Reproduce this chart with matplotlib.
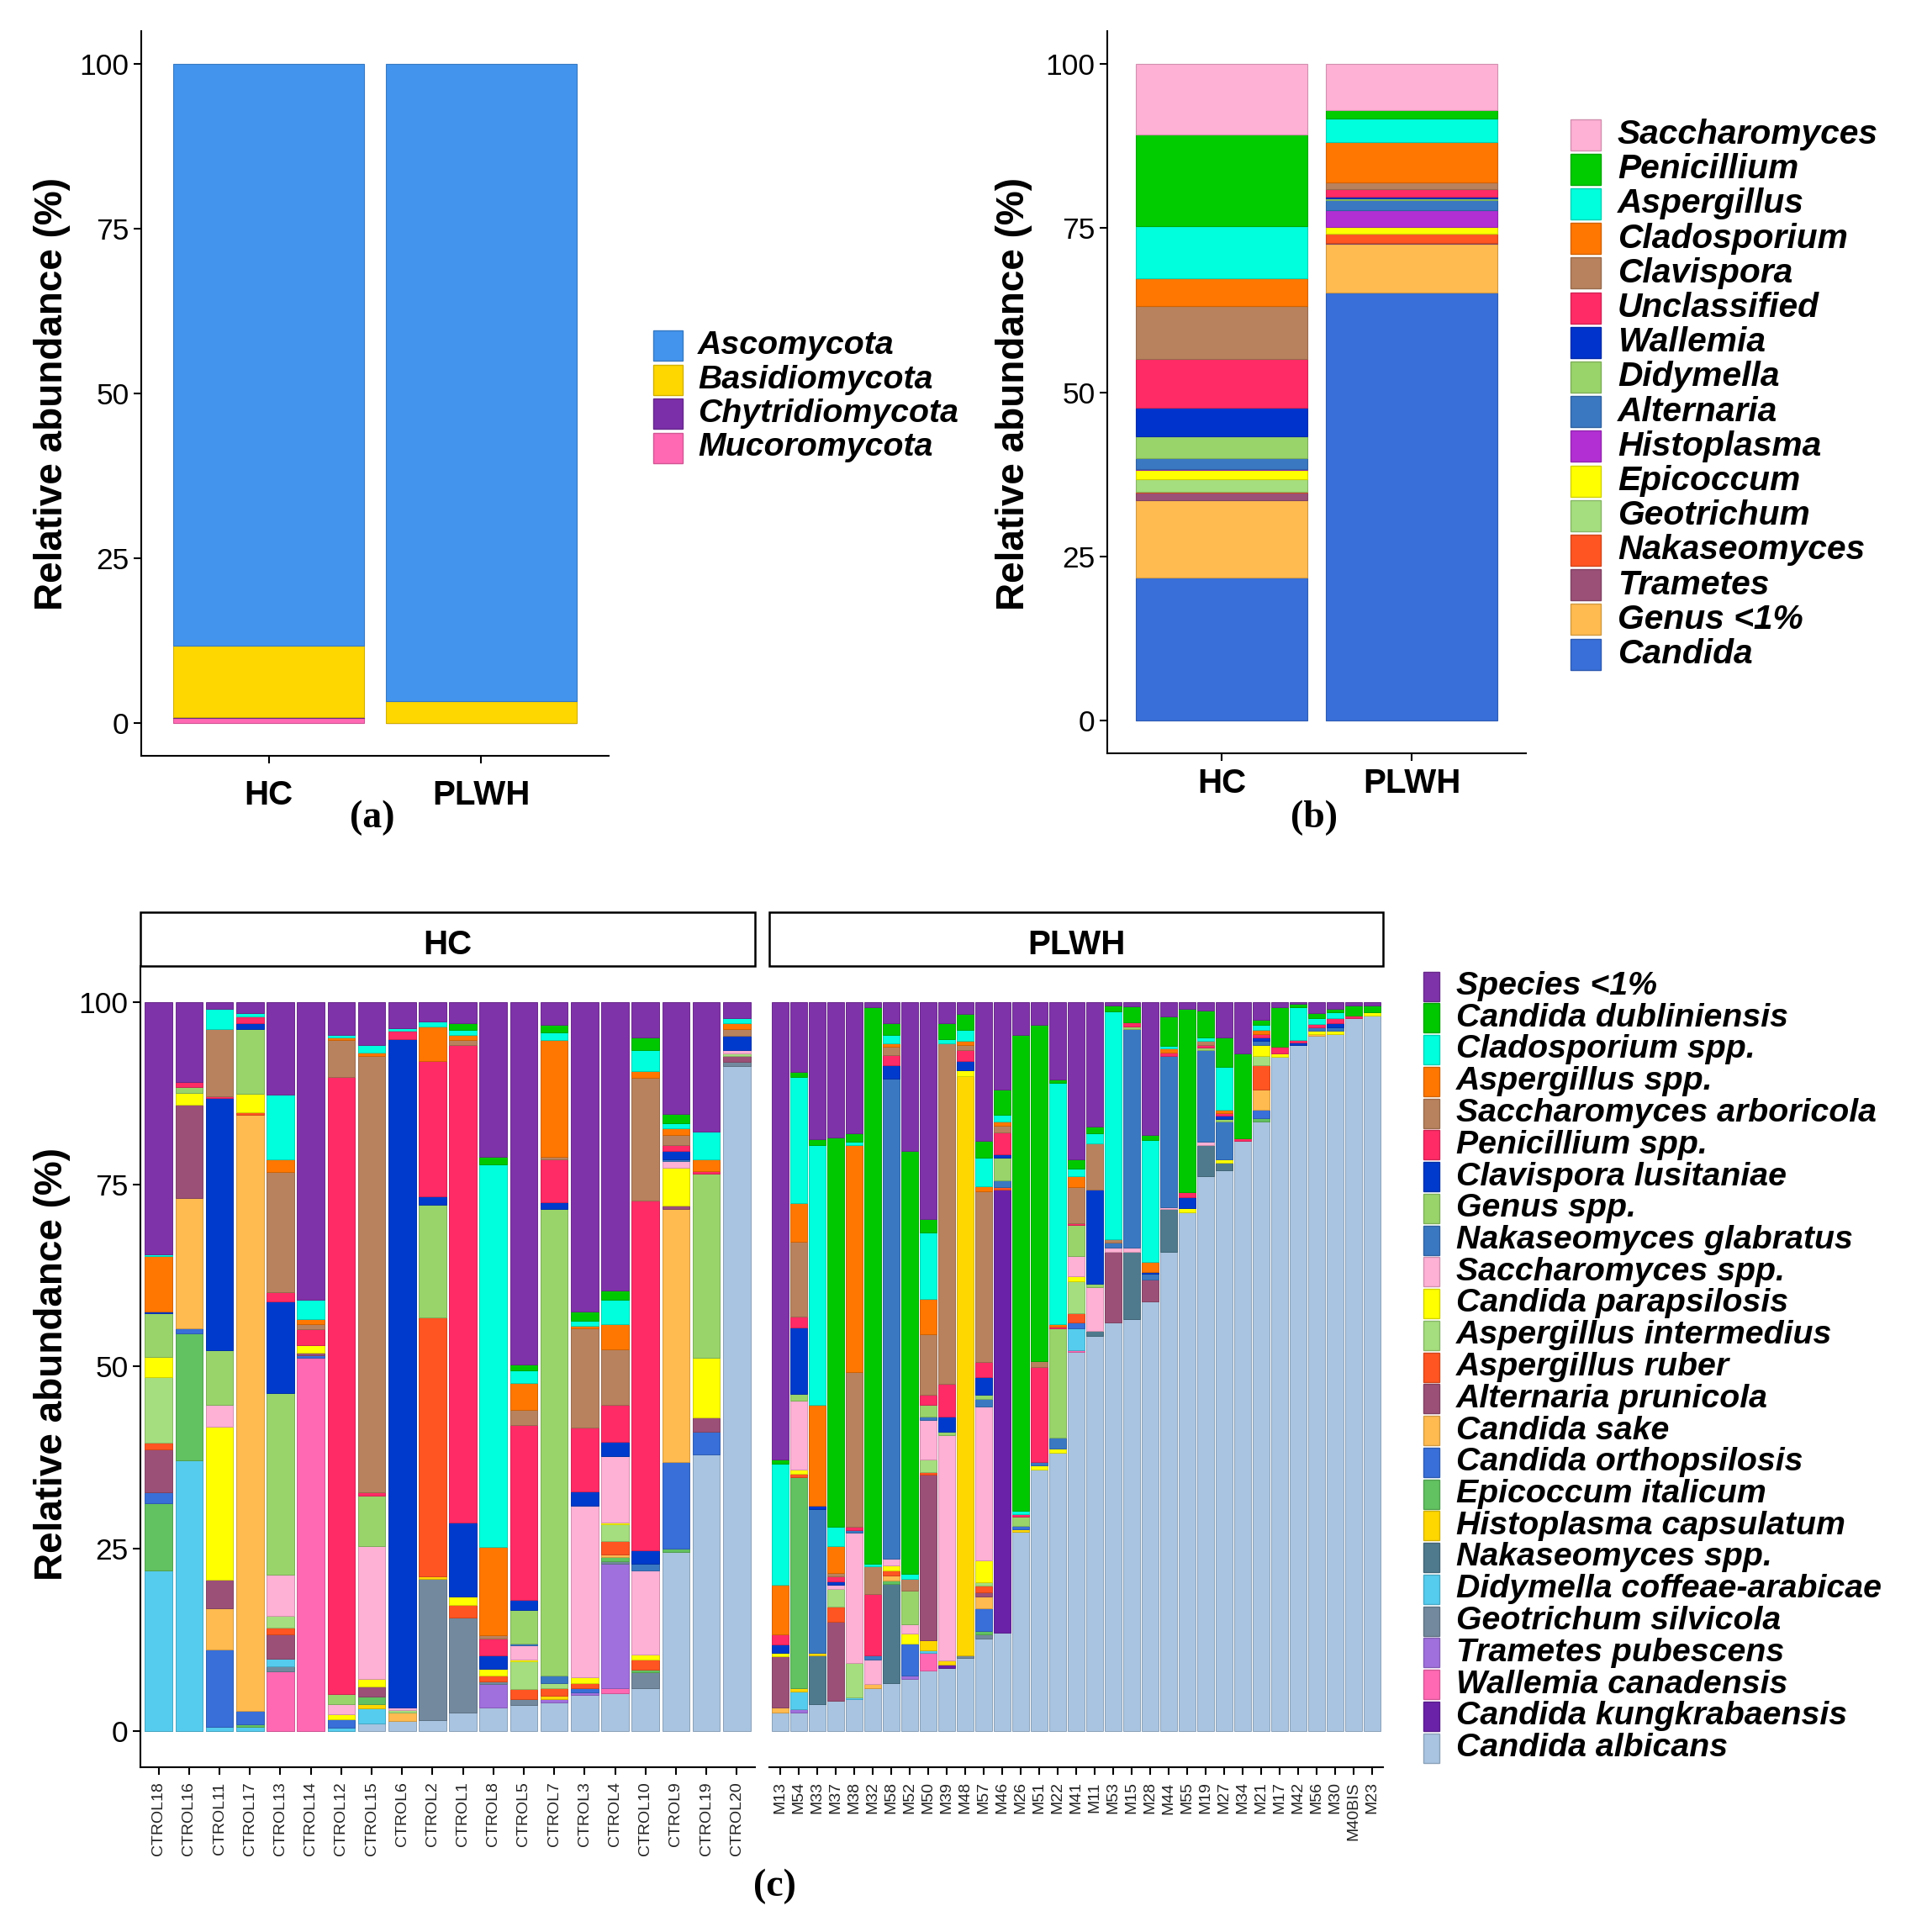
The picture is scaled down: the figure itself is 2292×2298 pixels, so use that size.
import numpy as np
import matplotlib
matplotlib.use('Agg')
import matplotlib.pyplot as plt
from matplotlib.patches import Rectangle
from matplotlib.colors import to_rgb

W, H = 2292, 2298
plt.rcParams['font.family'] = ['Liberation Sans', 'DejaVu Sans']

# ---------------- data ----------------
groups = ['HC', 'PLWH']

# (a) phylum level, legend order (top of stack first)
phyla = ['Ascomycota', 'Basidiomycota', 'Chytridiomycota', 'Mucoromycota']
phyla_colors = ['#4394EC', '#FFD700', '#7B2FA8', '#FF69B4']
phyla_hc = [88.3, 10.8, 0.1, 0.8]
phyla_plwh = [96.7, 3.3, 0.0, 0.0]

# (b) genus level, legend order (top of stack first)
genera = ['Saccharomyces', 'Penicillium', 'Aspergillus', 'Cladosporium', 'Clavispora',
          'Unclassified', 'Wallemia', 'Didymella', 'Alternaria', 'Histoplasma',
          'Epicoccum', 'Geotrichum', 'Nakaseomyces', 'Trametes', 'Genus <1%', 'Candida']
genera_colors = ['#FFB0D5', '#00CC00', '#00FFDD', '#FF7700', '#B8825E',
                 '#FF2B66', '#0033CC', '#99D46B', '#3A78C2', '#B22FD4',
                 '#FFFF00', '#A5DE7E', '#FF5522', '#9B5078', '#FFBB50', '#386FD8']
genera_hc = [10.7, 14.0, 8.0, 4.2, 8.0, 7.5, 4.3, 3.4, 1.6, 0.1, 1.5, 1.9, 0.1, 1.1, 11.9, 21.7]
genera_plwh = [7.0, 1.3, 3.6, 6.1, 1.1, 1.1, 0.3, 0.3, 1.5, 2.6, 0.9, 0.1, 1.4, 0.1, 7.4, 65.2]

# (c) species level, stacking order from the bottom (legend shows it reversed)
species = ['Candida albicans', 'Candida kungkrabaensis', 'Wallemia canadensis',
           'Trametes pubescens', 'Geotrichum silvicola', 'Didymella coffeae-arabicae',
           'Nakaseomyces spp.', 'Histoplasma capsulatum', 'Epicoccum italicum',
           'Candida orthopsilosis', 'Candida sake', 'Alternaria prunicola',
           'Aspergillus ruber', 'Aspergillus intermedius', 'Candida parapsilosis',
           'Saccharomyces spp.', 'Nakaseomyces glabratus', 'Genus spp.',
           'Clavispora lusitaniae', 'Penicillium spp.', 'Saccharomyces arboricola',
           'Aspergillus spp.', 'Cladosporium spp.', 'Candida dubliniensis', 'Species <1%']
species_colors = ['#A8C4E0', '#6A22A8', '#FF69B4', '#A070DD', '#738A9E', '#55CCEE',
                  '#4F7A8E', '#FFD700', '#62C160', '#386FD8', '#FFBB50', '#9B5078',
                  '#FF5522', '#A5DE7E', '#FFFF00', '#FFB0D5', '#3A78C2', '#99D46B',
                  '#003ACC', '#FF2B66', '#B8825E', '#FF7700', '#00FFDD', '#00C800', '#7F33A8']

hc_samples = ['CTROL18', 'CTROL16', 'CTROL11', 'CTROL17', 'CTROL13', 'CTROL14', 'CTROL12',
              'CTROL15', 'CTROL6', 'CTROL2', 'CTROL1', 'CTROL8', 'CTROL5', 'CTROL7',
              'CTROL3', 'CTROL4', 'CTROL10', 'CTROL9', 'CTROL19', 'CTROL20']
plwh_samples = ['M13', 'M54', 'M33', 'M37', 'M38', 'M32', 'M58', 'M52', 'M50', 'M39', 'M48',
                'M57', 'M46', 'M26', 'M51', 'M22', 'M41', 'M11', 'M53', 'M15', 'M28', 'M44',
                'M55', 'M19', 'M27', 'M34', 'M21', 'M17', 'M42', 'M56', 'M30', 'M40BIS', 'M23']

# rows = samples, columns = species (same order as `species`)
hc_abundance = [
    [0, 0, 0, 0, 0, 22.0, 0, 0, 9.3, 1.4, 0, 5.9, 0.9, 9.1, 2.7, 0, 0, 6.0, 0.3, 0, 0, 7.6, 0.2, 0, 34.6],
    [0, 0, 0, 0, 0, 37.1, 0, 0, 17.5, 0.6, 17.9, 12.9, 0, 0, 1.6, 0, 0, 0.8, 0, 0.7, 0, 0, 0, 0, 10.9],
    [0, 0, 0, 0, 0, 0.5, 0, 0, 0, 10.7, 5.6, 3.9, 0, 0, 21.1, 2.9, 0, 7.6, 34.6, 0.2, 9.3, 0, 2.7, 0, 0.9],
    [0, 0, 0, 0, 0, 0.5, 0, 0, 0.4, 1.8, 81.9, 0, 0.3, 0, 2.5, 0, 0, 8.9, 0.8, 1.0, 0, 0, 0.4, 0, 1.5],
    [0, 0, 8.2, 0, 0.6, 1.1, 0, 0, 0, 0, 0, 3.3, 1.0, 1.6, 0, 5.6, 0, 25.0, 12.5, 1.3, 16.5, 1.8, 8.8, 0, 12.7],
    [0, 0, 51.2, 0, 0, 0, 0, 0, 0, 0.4, 0, 0.3, 0, 0, 1.1, 0, 0, 0, 0, 2.1, 0.7, 0.7, 2.7, 0, 40.8],
    [0, 0, 0, 0, 0, 0.4, 0, 0, 0, 1.2, 0, 0, 0, 0, 0.7, 1.4, 0, 1.3, 0, 84.8, 5.0, 0.4, 0.3, 0, 4.5],
    [1.0, 0, 0, 0, 0, 2.1, 0, 0.5, 1.1, 0, 0, 1.4, 0, 0, 1.0, 18.3, 0, 6.9, 0, 0.4, 60.0, 0.4, 1.1, 0, 5.8],
    [1.4, 0, 0, 0, 0, 0, 0, 0, 0, 0, 1.1, 0, 0, 0.3, 0, 0.4, 0, 0, 91.8, 1.1, 0, 0, 0.4, 0, 3.5],
    [1.5, 0, 0, 0, 19.4, 0, 0, 0.3, 0, 0, 0, 0, 35.6, 0, 0, 0, 0, 15.4, 1.2, 18.6, 0, 4.7, 0.7, 0, 2.6],
    [2.5, 0, 0, 0, 13.1, 0, 0, 0, 0, 0, 0, 0, 1.7, 0, 1.1, 0, 0, 0, 10.2, 65.5, 0.7, 0.7, 0.7, 0.9, 2.9],
    [3.2, 0, 0, 3.2, 0.4, 0, 0, 0, 0, 0, 0, 0, 0.8, 0, 0.9, 0, 0, 0, 1.8, 2.4, 0.4, 12.1, 52.6, 1.0, 21.2],
    [3.5, 0, 0, 0, 0.9, 0, 0, 0, 0, 0, 0, 0, 1.3, 3.8, 0.3, 1.9, 0.3, 4.6, 1.4, 24.0, 2.0, 3.8, 1.7, 0.8, 49.7],
    [3.9, 0, 0, 0.4, 0, 0, 0, 0.5, 0, 0, 0, 0, 1.0, 0.8, 0, 0, 1.0, 64.0, 1.0, 5.9, 0.3, 16.1, 1.0, 1.0, 3.1],
    [4.9, 0, 0, 0.4, 0, 0, 0, 0, 0, 0.5, 0, 0, 0.8, 0, 0.7, 23.6, 0, 0, 2.0, 8.7, 13.6, 0.4, 0.7, 1.3, 42.4],
    [5.2, 0, 0.7, 17.0, 0.4, 0, 0, 0, 0.5, 0, 0.4, 0, 1.9, 2.3, 0.2, 9.1, 0, 0, 2.0, 5.0, 7.7, 3.4, 3.4, 1.3, 39.5],
    [5.9, 0, 0, 0, 2.1, 0, 0, 0, 0.4, 0, 0, 0, 1.4, 0, 0.7, 11.5, 0.9, 0, 1.9, 48.0, 16.8, 1.0, 2.9, 1.7, 4.8],
    [24.6, 0, 0, 0, 0, 0, 0, 0, 0.4, 11.9, 34.7, 0.5, 0, 0, 5.2, 0.9, 0.3, 0, 1.1, 0.8, 1.4, 0.9, 0.7, 1.3, 15.3],
    [37.9, 0, 0, 0, 0, 0, 0, 0, 0, 3.1, 0, 2.0, 0, 0, 8.2, 0, 0, 25.3, 0, 0.3, 0, 1.6, 3.9, 0, 17.7],
    [91.3, 0, 0, 0, 0.5, 0, 0, 0, 0, 0, 0, 0.9, 0, 0.3, 0, 0.5, 0, 0, 1.9, 0, 1.0, 0.7, 0.7, 0, 2.2],
]

plwh_abundance = [
    [2.5, 0, 0, 0, 0, 0, 0, 0, 0, 0, 0.7, 7.0, 0, 0, 0.5, 0, 0, 0, 1.1, 1.4, 0, 6.8, 16.7, 0.6, 62.7],
    [2.5, 0, 0, 0.5, 0, 2.4, 0, 0.5, 28.9, 0, 0, 0, 0.5, 0, 0.6, 9.4, 0, 0.9, 9.2, 1.5, 10.2, 5.3, 17.4, 0.6, 9.6],
    [3.7, 0, 0, 0, 0, 0, 6.6, 0.4, 0, 0, 0, 0, 0, 0, 0, 0, 19.7, 0, 0.5, 0, 0, 13.9, 35.6, 0.8, 18.8],
    [4.1, 0, 0, 0, 0, 0, 0, 0, 0, 0, 0, 10.9, 2.1, 2.4, 0, 0.5, 0, 0, 0.5, 0.7, 0.5, 3.7, 2.6, 53.4, 18.6],
    [4.4, 0, 0, 0, 0, 0.2, 0, 0, 0, 0, 0, 0, 0, 4.7, 0, 17.9, 0.4, 0, 0, 0.4, 21.3, 31.1, 0.5, 1.1, 18.0],
    [5.9, 0, 0, 0, 0, 0, 0, 0, 0, 0, 0.5, 0, 0, 0, 0, 3.4, 0.5, 0, 0, 8.5, 3.8, 0, 0.3, 76.4, 0.7],
    [6.6, 0, 0, 0, 0, 0, 13.6, 0, 0.4, 0, 0.7, 0, 0.7, 0, 0.7, 0.9, 65.9, 0, 1.9, 1.4, 1.1, 0.5, 1.1, 1.6, 2.9],
    [7.1, 0, 0, 0.5, 0, 0, 0, 0, 0, 4.4, 0, 0, 0, 0, 1.4, 1.2, 0, 4.6, 0, 0, 1.7, 0, 0.7, 58.0, 20.4],
    [8.3, 0, 2.4, 0, 0, 0.3, 0, 1.4, 0, 0, 0, 22.8, 0.3, 1.7, 0, 5.5, 0.4, 1.7, 0, 1.3, 8.3, 4.9, 9.1, 1.9, 29.7],
    [8.6, 0.5, 0, 0, 0, 0, 0, 0.6, 0, 0, 0, 0, 0, 0, 0, 30.9, 0, 0.5, 2.0, 4.5, 46.8, 0, 0.6, 2.1, 2.9],
    [10.0, 0, 0, 0, 0.3, 0, 0, 79.6, 0, 0, 0, 0, 0, 0, 0.8, 0, 0, 0, 1.3, 1.5, 0.6, 0.6, 1.5, 2.2, 1.6],
    [12.7, 0, 0, 0, 0.5, 0, 0, 0, 0.5, 3.1, 1.6, 0.6, 0.9, 0.5, 3.0, 21.1, 1.1, 0.5, 2.5, 2.0, 23.5, 0.7, 3.9, 2.3, 19.0],
    [13.5, 60.8, 0, 0, 0, 0, 0, 0, 0, 0, 0, 0, 0.3, 0, 0, 0, 1.0, 3.1, 0.4, 3.0, 1.0, 0.6, 0.9, 3.4, 12.0],
    [27.3, 0, 0, 0, 0, 0, 0, 0.4, 0, 0.4, 0, 0, 0, 0, 0, 0, 0, 1.3, 0, 0.3, 0, 0, 0.5, 65.3, 4.5],
    [35.9, 0, 0, 0, 0, 0, 0, 0, 0, 0, 0, 0, 0, 0, 0.5, 0, 0.5, 0, 0, 13.0, 0.9, 0, 0, 46.1, 3.1],
    [38.2, 0, 0, 0, 0, 0, 0, 0, 0, 0, 0, 0, 0, 0, 0.6, 0, 1.5, 14.9, 0, 0.3, 0, 0.3, 33.1, 0.5, 10.6],
    [52.0, 0, 0.2, 0, 0, 3.0, 0, 0, 0, 0.9, 0, 0, 1.2, 4.4, 0.7, 2.8, 0, 4.2, 0, 0.3, 4.9, 1.6, 1.0, 1.3, 21.5],
    [54.2, 0, 0, 0, 0, 0, 0.7, 0, 0, 0, 0, 0, 0, 0, 0, 6.0, 0, 0.5, 12.9, 0, 6.4, 0, 1.3, 0.9, 17.1],
    [56.1, 0, 0, 0, 0, 0, 0, 0, 0, 0, 0, 9.7, 0, 0, 0, 0.5, 0.7, 0, 0, 0, 0.5, 0, 31.3, 0.8, 0.4],
    [56.5, 0, 0, 0, 0, 0, 9.3, 0, 0, 0, 0, 0, 0, 0, 0, 0.5, 30.1, 0.3, 0, 0.6, 0, 0, 0, 2.2, 0.5],
    [59.0, 0, 0, 0, 0, 0, 0, 0, 0, 0, 0, 3.0, 0, 0, 0, 0, 0.7, 0, 0.3, 0, 0, 1.4, 16.7, 0.7, 18.2],
    [65.8, 0, 0, 0, 0, 0, 5.8, 0, 0, 0, 0, 0, 0, 0, 0, 0.3, 20.8, 0, 0, 0.4, 0, 0.6, 0.3, 4.1, 1.9],
    [71.2, 0, 0, 0, 0, 0, 0, 0, 0, 0, 0, 0, 0, 0, 0.6, 0, 0, 0, 1.5, 0.6, 0, 0, 0, 25.2, 0.9],
    [76.2, 0, 0, 0, 0, 0, 4.2, 0, 0, 0, 0, 0, 0, 0, 0, 0.5, 12.6, 0.3, 0, 0.4, 0.5, 0, 0.5, 3.7, 1.1],
    [76.9, 0, 0, 0, 0, 0, 1.1, 0, 0, 0, 0, 0, 0, 0, 0.5, 0, 5.2, 0.3, 0.4, 0.4, 0, 0.5, 5.9, 4.0, 4.8],
    [81.0, 0, 0, 0, 0, 0, 0, 0, 0, 0, 0, 0, 0, 0, 0, 0, 0, 0, 0, 0.3, 0, 0, 0, 11.7, 7.0],
    [83.7, 0, 0, 0, 0, 0, 0, 0, 0.4, 1.2, 2.7, 0, 3.4, 1.3, 1.4, 0, 0.6, 0, 0.5, 0.4, 0, 0.6, 0.7, 0.7, 2.4],
    [92.5, 0, 0, 0, 0, 0, 0, 0, 0, 0, 0, 0, 0, 0, 0.5, 0, 0, 0, 0, 0.9, 0, 0, 0, 5.4, 0.7],
    [94.1, 0, 0, 0, 0, 0, 0, 0, 0, 0, 0, 0, 0, 0, 0, 0, 0, 0, 0.4, 0.3, 0, 0, 4.5, 0.5, 0.2],
    [95.4, 0, 0, 0, 0, 0, 0, 0, 0, 0, 0.3, 0, 0, 0, 0.4, 0, 0.5, 0, 0, 0.4, 0, 0, 0.8, 0.7, 1.5],
    [95.7, 0, 0, 0, 0, 0, 0, 0, 0, 0, 0, 0, 0, 0, 0.4, 0, 0.5, 0, 0.6, 0.6, 0, 0, 0.8, 0.5, 0.9],
    [97.8, 0, 0, 0, 0, 0, 0, 0, 0, 0, 0, 0, 0, 0, 0, 0, 0, 0, 0, 0.4, 0, 0, 0, 1.4, 0.4],
    [98.2, 0, 0, 0, 0, 0, 0, 0, 0, 0, 0, 0, 0, 0, 0.4, 0, 0, 0, 0, 0, 0, 0, 0, 1.0, 0.4],
]

# ---------------- helpers ----------------
def darker(c, f=0.82):
    r, g, b = to_rgb(c)
    return (r * f, g * f, b * f)

def pos(l, t, r, b):
    return [l / W, 1 - b / H, (r - l) / W, (b - t) / H]

fig = plt.figure(figsize=(W / 100, H / 100), dpi=100)

TICK_FS = 25.5

def style_axes(ax, show_y=True):
    for s in ['top', 'right']:
        ax.spines[s].set_visible(False)
    ax.spines['bottom'].set_linewidth(1.5)
    ax.spines['left'].set_linewidth(1.5)
    ax.set_ylim(-5, 105)
    ax.set_yticks([0, 25, 50, 75, 100])
    ax.tick_params(axis='y', labelsize=TICK_FS, length=6.5, width=1.5, pad=4, colors='black')
    ax.tick_params(axis='x', length=6.5, width=1.5, colors='black')
    if not show_y:
        ax.spines['left'].set_visible(False)
        ax.tick_params(axis='y', left=False, labelleft=False)

def stack_two(ax, names, colors, vals_hc, vals_plwh, xlabel_pad):
    x = np.arange(len(groups))
    bottoms = np.zeros(len(groups))
    # stack from the bottom: last legend entry first
    for name, col, a, b in reversed(list(zip(names, colors, vals_hc, vals_plwh))):
        v = np.array([a, b])
        ax.bar(x, v, width=0.9, bottom=bottoms, color=col, edgecolor=darker(col), linewidth=0.8)
        bottoms += v
    ax.set_xlim(-0.6, len(groups) - 0.4)
    ax.set_xticks(x)
    ax.set_xticklabels(groups, fontsize=29, fontweight='bold')
    ax.tick_params(axis='x', pad=xlabel_pad)

# ---------------- panel (a) ----------------
ax_a = fig.add_axes(pos(168, 37, 724, 899))
style_axes(ax_a)
stack_two(ax_a, phyla, phyla_colors, phyla_hc, phyla_plwh, 14)

# ---------------- panel (b) ----------------
ax_b = fig.add_axes(pos(1317, 37, 1815, 896))
style_axes(ax_b)
stack_two(ax_b, genera, genera_colors, genera_hc, genera_plwh, 6)

# ---------------- panel (c) ----------------
def stack_samples(ax, samples, matrix):
    m = np.array(matrix, dtype=float)
    x = np.arange(len(samples))
    bottoms = np.zeros(len(samples))
    for j, col in enumerate(species_colors):
        v = m[:, j]
        ax.bar(x, v, width=0.9, bottom=bottoms, color=col, edgecolor=darker(col), linewidth=0.7)
        bottoms += v
    ax.set_xlim(-0.6, len(samples) - 0.4)
    ax.set_xticks(x)
    ax.set_xticklabels(samples, rotation=90, fontsize=14, color='#222222')
    ax.tick_params(axis='x', pad=6)

ax_c1 = fig.add_axes(pos(167, 1149, 898, 2102))
style_axes(ax_c1)
stack_samples(ax_c1, hc_samples, hc_abundance)

ax_c2 = fig.add_axes(pos(915, 1149, 1645, 2102))
style_axes(ax_c2, show_y=False)
stack_samples(ax_c2, plwh_samples, plwh_abundance)

# ---------------- overlay (pixel coordinates) ----------------
ov = fig.add_axes([0, 0, 1, 1])
ov.set_xlim(0, W)
ov.set_ylim(H, 0)
ov.axis('off')
ov.patch.set_alpha(0)

def draw_legend(names, colors, xk, kw, kh, y0, dy, xt, fs):
    for i, (n, c) in enumerate(zip(names, colors)):
        y = y0 + i * dy
        ov.add_patch(Rectangle((xk, y - kh / 2), kw, kh, facecolor=c,
                               edgecolor=darker(c), linewidth=1.0))
        ov.text(xt, y, n, fontsize=fs, fontweight='bold', fontstyle='italic',
                ha='left', va='center')

draw_legend(phyla, phyla_colors, 777, 35, 36, 411, 40.5, 830, 28.3)
draw_legend(genera, genera_colors, 1868, 36, 37, 160, 41.2, 1924, 29.3)
draw_legend(list(reversed(species)), list(reversed(species_colors)),
            1693, 19, 35, 1173, 37.75, 1732, 28.3)

# y labels
for (xc, yc) in [(62, 468), (1206, 468), (62, 1622)]:
    ov.text(xc, yc, 'Relative abundance (%)', rotation=90, fontsize=33,
            fontweight='bold', ha='center', va='center')

# facet strips
for (l, r, lab) in [(167, 898, 'HC'), (915, 1645, 'PLWH')]:
    ov.add_patch(Rectangle((l, 1085), r - l, 64, facecolor='white',
                           edgecolor='black', linewidth=1.8))
    ov.text((l + r) / 2, 1124, lab, fontsize=29, fontweight='bold', ha='center', va='center')

# panel letters
for (xc, yc, lab) in [(443, 973, '(a)'), (1563, 973, '(b)'), (921, 2244, '(c)')]:
    ov.text(xc, yc, lab, fontsize=33, fontweight='bold', ha='center', va='center',
            family=['Liberation Serif', 'DejaVu Serif'])

fig.savefig('out.png', dpi=100)
